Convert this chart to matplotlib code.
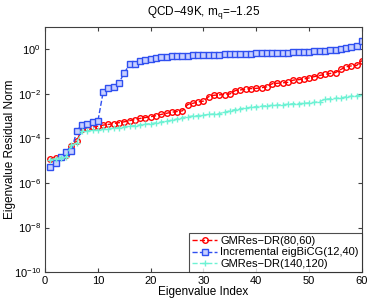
import matplotlib
matplotlib.use("Agg")
import matplotlib.pyplot as plt
import numpy as np

plt.rcParams['font.family'] = ['Liberation Sans', 'DejaVu Sans']

idx = list(range(1, 61))

# log10 of the residual norms
gmres_80_60 = [-4.92, -4.87, -4.82, -4.75, -4.33, -4.12, -3.56, -3.52, -3.49, -3.45,
               -3.40, -3.37, -3.33, -3.29, -3.25, -3.20, -3.15, -3.10, -3.06, -3.02,
               -2.98, -2.92, -2.87, -2.82, -2.79, -2.76, -2.48, -2.42, -2.36, -2.32,
               -2.12, -2.06, -2.04, -2.03, -2.00, -1.85, -1.82, -1.78, -1.76, -1.75,
               -1.72, -1.68, -1.54, -1.52, -1.50, -1.48, -1.38, -1.36, -1.33, -1.28,
               -1.22, -1.17, -1.12, -1.08, -1.04, -0.90, -0.78, -0.74, -0.72, -0.50]
eigbicg = [-5.30, -5.10, -4.84, -4.62, -4.56, -3.66, -3.38, -3.35, -3.26, -3.23,
           -1.93, -1.74, -1.70, -1.50, -1.06, -0.67, -0.65, -0.53, -0.46, -0.42,
           -0.37, -0.34, -0.33, -0.30, -0.29, -0.28, -0.28, -0.27, -0.26, -0.26,
           -0.25, -0.24, -0.23, -0.22, -0.22, -0.21, -0.20, -0.20, -0.19, -0.18,
           -0.18, -0.17, -0.16, -0.16, -0.15, -0.14, -0.13, -0.12, -0.11, -0.10,
           -0.08, -0.07, -0.05, -0.03, -0.02, 0.03, 0.05, 0.13, 0.15, 0.38]
gmres_140_120 = [-4.95, -4.90, -4.86, -4.82, -4.30, -4.20, -3.68, -3.66, -3.64, -3.62,
                 -3.59, -3.56, -3.54, -3.51, -3.48, -3.45, -3.42, -3.39, -3.36, -3.33,
                 -3.30, -3.26, -3.22, -3.18, -3.12, -3.06, -3.02, -2.99, -2.97, -2.95,
                 -2.92, -2.90, -2.88, -2.82, -2.76, -2.70, -2.66, -2.63, -2.60, -2.57,
                 -2.55, -2.53, -2.51, -2.50, -2.48, -2.46, -2.44, -2.43, -2.42, -2.40,
                 -2.38, -2.34, -2.24, -2.22, -2.20, -2.18, -2.13, -2.10, -2.08, -2.04]

labels = ['GMRes\u2212DR(80,60)', 'Incremental eigBiCG(12,40)', 'GMRes\u2212DR(140,120)']

fig = plt.figure(figsize=(3.72, 3.05), dpi=100)
ax = fig.add_axes([0.121, 0.108, 0.852, 0.803])

ax.semilogy(idx, np.power(10.0, gmres_80_60), '--o', color='#ff0000', lw=1,
            ms=4, mfc='none', mew=1, label=labels[0])
ax.semilogy(idx, np.power(10.0, eigbicg), '--s', color='#2f4ff0', lw=1,
            ms=4, mfc='#c8d0ff', mew=1, label=labels[1])
ax.semilogy(idx, np.power(10.0, gmres_140_120), '--+', color='#6ef2d4', lw=1,
            ms=5, mew=1, label=labels[2])

ax.set_xlim(0, 60)
ax.set_ylim(1e-10, 1e1)
ax.set_xticks([0, 10, 20, 30, 40, 50, 60])
ax.set_yticks([1e-10, 1e-8, 1e-6, 1e-4, 1e-2, 1e0])
ax.minorticks_off()
ax.tick_params(direction='in', top=True, right=True, labelsize=8, length=3,
               color='#404040', pad=3)
for s in ax.spines.values():
    s.set_color('#404040')
    s.set_linewidth(0.8)

ax.set_xlabel('Eigenvalue Index', fontsize=8.5, labelpad=0)
ax.set_ylabel('Eigenvalue Residual Norm', fontsize=8.5)
ax.yaxis.set_label_coords(-0.093, 0.5)
ax.set_title('QCD\u221249K, m$_\\mathregular{q}$=\u22121.25', fontsize=8.5, pad=9)

leg = ax.legend(loc='lower right', fontsize=8, frameon=True, fancybox=False,
                borderpad=0.3, labelspacing=0.12, handlelength=2.2,
                handletextpad=0.3, borderaxespad=0)
leg.get_frame().set_edgecolor('#202020')
leg.get_frame().set_linewidth(0.8)

fig.savefig('out.png', dpi=100)
